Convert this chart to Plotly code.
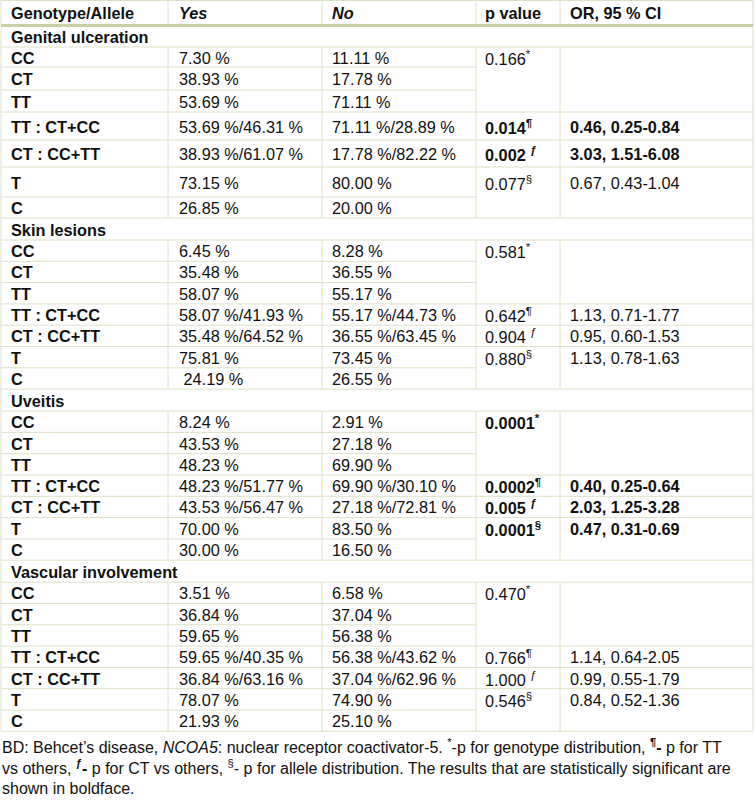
import plotly.graph_objects as go

# ---------------- data ----------------
header = ["Genotype/Allele", "Yes", "No", "p value", "OR, 95 % CI"]
sections = ["Genital ulceration", "Skin lesions", "Uveitis", "Vascular involvement"]
genotypes = ["CC", "CT", "TT", "TT : CT+CC", "CT : CC+TT", "T", "C"]

yes_vals = [
    ["7.30 %", "38.93 %", "53.69 %", "53.69 %/46.31 %", "38.93 %/61.07 %", "73.15 %", "26.85 %"],
    ["6.45 %", "35.48 %", "58.07 %", "58.07 %/41.93 %", "35.48 %/64.52 %", "75.81 %", "\u00a024.19 %"],
    ["8.24 %", "43.53 %", "48.23 %", "48.23 %/51.77 %", "43.53 %/56.47 %", "70.00 %", "30.00 %"],
    ["3.51 %", "36.84 %", "59.65 %", "59.65 %/40.35 %", "36.84 %/63.16 %", "78.07 %", "21.93 %"],
]
no_vals = [
    ["11.11 %", "17.78 %", "71.11 %", "71.11 %/28.89 %", "17.78 %/82.22 %", "80.00 %", "20.00 %"],
    ["8.28 %", "36.55 %", "55.17 %", "55.17 %/44.73 %", "36.55 %/63.45 %", "73.45 %", "26.55 %"],
    ["2.91 %", "27.18 %", "69.90 %", "69.90 %/30.10 %", "27.18 %/72.81 %", "83.50 %", "16.50 %"],
    ["6.58 %", "37.04 %", "56.38 %", "56.38 %/43.62 %", "37.04 %/62.96 %", "74.90 %", "25.10 %"],
]
# p values: genotype distribution, TT vs others, CT vs others, allele distribution
p_vals = [
    ["0.166", "0.014", "0.002", "0.077"],
    ["0.581", "0.642", "0.904", "0.880"],
    ["0.0001", "0.0002", "0.005", "0.0001"],
    ["0.470", "0.766", "1.000", "0.546"],
]
p_marks = ["<sup>*</sup>", "<sup>¶</sup>", " <sup>ƒ</sup>", "<sup>§</sup>"]
or_vals = [
    ["", "0.46, 0.25-0.84", "3.03, 1.51-6.08", "0.67, 0.43-1.04"],
    ["", "1.13, 0.71-1.77", "0.95, 0.60-1.53", "1.13, 0.78-1.63"],
    ["", "0.40, 0.25-0.64", "2.03, 1.25-3.28", "0.47, 0.31-0.69"],
    ["", "1.14, 0.64-2.05", "0.99, 0.55-1.79", "0.84, 0.52-1.36"],
]
significant = [
    [False, True, True, False],
    [False, False, False, False],
    [True, True, True, True],
    [False, False, False, False],
]
groups = [[0, 1, 2], [3], [4], [5, 6]]

caption_lines = [
    "BD: Behcet’s disease, <i>NCOA5</i>: nuclear receptor coactivator-5. <sup>*</sup>-p for genotype distribution, <b><sup>¶</sup>-</b> p for TT",
    "vs others, <b><sup>ƒ</sup>-</b> p for CT vs others, <sup>§</sup>- p for allele distribution. The results that are statistically significant are",
    "shown in boldface.",
]

# ---------------- layout / style ----------------
W, H = 756, 800
col_x = [1, 168, 322, 476, 560, 753]
col_pad = [8, 9, 8, 7, 8]
header_h = 25
section_h = 22
first_rows = [20, 23, 22, 28, 27, 30, 21]
other_rows = [21.3] * 7
line_col = "#dbe1c4"
thick_col = "#c8d1a6"
FONT = "Liberation Sans, Arial, sans-serif"
FS = 16.3
CAP_FS = 16.0
TXT = "#111111"

shapes = []
anns = []


def hline(y, x0, x1, color=line_col, w=1):
    shapes.append(dict(type="line", xref="x", yref="y", x0=x0, x1=x1, y0=y, y1=y,
                       line=dict(color=color, width=w)))


def vline(x, y0, y1, color=line_col, w=1):
    shapes.append(dict(type="line", xref="x", yref="y", x0=x, x1=x, y0=y0, y1=y1,
                       line=dict(color=color, width=w)))


def text(x, y, s, size=FS, yanchor="middle"):
    anns.append(dict(x=x, y=y, xref="x", yref="y", text=s, xanchor="left", yanchor=yanchor,
                     showarrow=False, align="left",
                     font=dict(family=FONT, size=size, color=TXT)))


# header
hline(0.5, col_x[0], col_x[-1])
for c, h in enumerate(header):
    s = f"<b><i>{h}</i></b>" if c in (1, 2) else f"<b>{h}</b>"
    text(col_x[c] + col_pad[c], header_h / 2 + 0.5, s)
for xv in col_x:
    vline(xv, 0, header_h)

y = header_h
table_bottom = None
for s in range(len(sections)):
    hs = first_rows if s == 0 else other_rows
    # section title row
    text(col_x[0] + col_pad[0], y + section_h / 2 + 1, f"<b>{sections[s]}</b>")
    vline(col_x[0], y, y + section_h)
    vline(col_x[-1], y, y + section_h)
    y0 = y + section_h
    hline(y0, col_x[0], col_x[-1])
    tops = []
    t = y0
    for h in hs:
        tops.append(t)
        t += h
    for r in range(len(genotypes)):
        cy = tops[r] + hs[r] / 2 + 0.5
        text(col_x[0] + col_pad[0], cy, f"<b>{genotypes[r]}</b>")
        text(col_x[1] + col_pad[1], cy, yes_vals[s][r])
        text(col_x[2] + col_pad[2], cy, no_vals[s][r])
    for g, rows in enumerate(groups):
        top = tops[rows[0]]
        bottom = tops[rows[-1]] + hs[rows[-1]]
        cy = top + hs[rows[0]] / 2 + 0.5
        pv = p_vals[s][g] + p_marks[g]
        ov = or_vals[s][g]
        if significant[s][g]:
            pv = f"<b>{pv}</b>"
            ov = f"<b>{ov}</b>" if ov else ov
        text(col_x[3] + col_pad[3], cy, pv)
        if ov:
            text(col_x[4] + col_pad[4], cy, ov)
        for r in rows[1:]:
            hline(tops[r], col_x[0], col_x[3])
        hline(bottom, col_x[0], col_x[-1])
    for xv in col_x:
        vline(xv, y0, t)
    y = t
    table_bottom = t

# header thick rule drawn last so it sits on top
hline(header_h + 0.5, col_x[0], col_x[-1], color=thick_col, w=3)

# caption (one block, wrapped into three lines)
text(0, H - 1, "<br>".join(caption_lines), size=CAP_FS, yanchor="bottom")

fig = go.Figure()
fig.update_layout(
    width=W, height=H,
    margin=dict(l=0, r=0, t=0, b=0),
    paper_bgcolor="white", plot_bgcolor="white",
    xaxis=dict(range=[0, W], visible=False, fixedrange=True),
    yaxis=dict(range=[H, 0], visible=False, fixedrange=True),
    shapes=shapes, annotations=anns, showlegend=False,
)
fig.write_html(
    "out.html",
    config={"displayModeBar": False, "staticPlot": True},
    post_script="document.body.style.margin='0px';document.body.style.overflow='hidden';",
)
